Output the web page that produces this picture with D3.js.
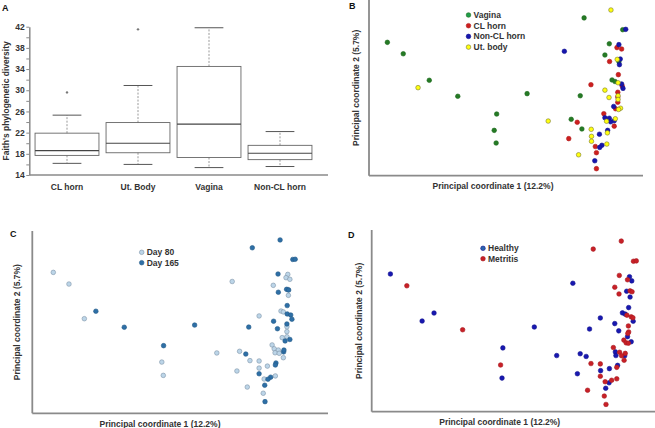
<!DOCTYPE html>
<html>
<head>
<meta charset="utf-8">
<script src="https://cdn.jsdelivr.net/npm/d3@7"></script>
<style>
  body { margin: 0; background: #fff; }
  text { font-family: "Liberation Sans Narrow", "Liberation Sans", Arial, sans-serif; font-weight: bold; fill: #333; }
</style>
</head>
<body>
<script>
let width = 655;
let height = 428;

// ---- panel A: Faith's PD boxplots ----
const boxCategories = ['CL horn', 'Ut. Body', 'Vagina', 'Non-CL horn'];
const whiskerLow  = [16.2, 16.0, 15.4, 15.6];
const q1          = [17.7, 18.2, 17.3, 16.9];
const median      = [18.6, 20.0, 23.6, 18.1];
const q3          = [21.9, 23.9, 34.5, 19.6];
const whiskerHigh = [25.3, 30.9, 41.8, 22.2];
const outliers    = [[29.6], [41.5], [], []];
const pdTicks = [14, 16, 18, 20, 22, 24, 26, 28, 30, 32, 34, 36, 38, 40, 42];

// ---- panel B: PCoA by site (PC1, PC2 scores, % of axis span) ----
const siteVagina = [[6.7,75.9],[12.5,69.4],[22.0,54.3],[32.4,45.2],[46.6,35.1],[45.7,25.8],[46.4,18.6],[57.7,46.7],
  [78.5,89.8],[77.1,45.5],[73.8,32.1],[77.7,26.6],[87.7,75.1],[86.1,68.7],[92.6,83.1],[88.7,54.5],[89.8,53.6],[91.2,64.9]];
const siteCLhorn = [[90.5,72.9],[92.2,72.1],[87.8,65.0],[91.0,57.5],[81.0,51.8],[92.4,51.1],[90.8,47.5],[90.8,44.8],
  [90.8,41.8],[90.0,38.1],[85.7,35.3],[76.0,30.4],[89.5,28.2],[72.9,21.1],[82.6,16.6],[83.0,13.1],[83.0,4.0]];
const siteNonCL = [[71.3,70.8],[93.7,83.3],[91.2,74.6],[91.7,66.4],[91.4,63.2],[92.2,52.2],[92.7,49.7],[89.3,39.4],
  [86.1,33.0],[87.7,32.7],[88.2,30.7],[89.5,31.3],[84.1,23.6],[87.1,25.8],[85.0,17.3],[84.2,16.1],[82.4,8.5]];
const siteUtBody = [[88.3,94.3],[17.9,50.1],[65.4,31.1],[86.1,48.7],[87.6,44.5],[90.6,66.2],[90.9,45.5],[90.9,43.4],
  [91.8,38.4],[91.1,37.7],[89.9,32.4],[86.7,31.0],[81.1,26.4],[81.2,22.4],[81.2,19.6],[87.0,24.4],[86.8,18.0],
  [76.5,11.9],[90.9,52.9]];

// ---- panel C: PCoA by day ----
const day80 = [[7.1,77.3],[12.4,70.9],[17.6,51.9],[43.8,28.1],[44.3,20.8],[62.4,33.1],[67.6,72.3],[70.1,34.0],
  [69.2,23.2],[72.7,14.4],[73.6,28.9],[76.7,53.4],[76.7,28.7],[76.7,24.8],[78.1,11.0],[78.4,18.8],[79.5,25.9],
  [82.2,20.5],[81.5,70.2],[81.1,37.5],[81.8,35.4],[83.2,34.7],[82.1,33.2],[83.5,32.9],[84.9,30.5],[86.4,76.2],
  [85.8,74.4],[87.1,73.5],[86.6,64.7],[84.1,56.1],[84.9,55.6],[86.1,47.5],[86.1,44.8],[86.1,42.0],[84.5,41.5],
  [86.5,67.9]];
const day165 = [[83.8,95.1],[74.4,90.8],[88.1,84.4],[88.9,84.5],[83.1,76.4],[83.2,66.4],[86.0,68.0],[86.7,67.6],
  [86.2,59.1],[86.2,54.5],[87.4,53.9],[87.8,51.6],[21.5,56.0],[31.1,47.2],[54.9,48.4],[44.4,37.1],[73.2,47.3],
  [81.6,50.5],[82.9,46.4],[86.1,49.0],[87.1,40.5],[85.5,39.7],[72.2,32.5],[85.0,33.7],[85.1,34.7],[82.4,27.6],
  [82.2,26.5],[76.7,21.7],[80.6,19.8],[79.7,18.7],[78.6,15.4],[78.7,6.4]];

// ---- panel D: PCoA by health ----
const healthy = [[6.6,75.8],[17.8,49.9],[22.0,54.3],[46.3,35.1],[46.0,18.5],[57.4,46.6],[65.3,30.9],[71.0,70.7],
  [73.6,31.9],[75.7,30.4],[72.6,20.9],[76.9,45.5],[80.7,51.6],[80.8,22.6],[83.9,23.7],[83.8,15.9],[82.6,12.9],
  [85.8,48.5],[87.2,44.5],[86.8,25.5],[86.0,32.9],[86.2,30.9],[89.3,30.8],[91.0,74.3],[91.8,72.0],[90.0,66.3],
  [91.2,63.1],[90.7,57.3],[88.5,54.4],[89.5,53.7],[92.3,49.8],[90.3,41.3],[91.6,38.5]];
const metritis = [[12.4,69.3],[32.1,45.1],[45.5,25.7],[78.2,89.5],[88.1,93.9],[92.4,82.8],[93.4,83.0],[87.4,75.0],
  [85.8,68.5],[87.3,64.8],[90.3,72.6],[91.2,66.5],[91.9,66.0],[90.1,53.1],[91.6,52.2],[92.2,51.7],[90.6,47.2],
  [90.7,43.9],[90.4,43.1],[89.0,39.4],[89.8,37.9],[90.6,37.7],[85.3,35.3],[87.5,32.7],[88.2,30.8],[89.5,32.1],
  [89.1,28.3],[77.4,26.5],[80.7,26.3],[80.7,19.5],[86.5,24.4],[84.7,17.3],[86.5,18.1],[82.4,16.5],[76.2,11.8],
  [82.1,8.6],[82.7,4.0]];

const axisGray = '#8a8a8a';

const svg = d3.select('body')
  .append('svg')
  .attr('width', width)
  .attr('height', height);

function panelLetter(label, x, y) {
  svg.append('text').attr('x', x).attr('y', y)
    .style('font-family', 'Liberation Sans, Arial, sans-serif')
    .style('font-size', '9px').style('fill', '#111')
    .text(label);
}

function drawBoxplot() {
  const x = d3.scaleBand().domain(boxCategories).range([31.5, 315.5]).paddingInner(0.1).paddingOuter(0.05);
  const y = d3.scaleLinear().domain([14, 42]).range([175, 26.7]);
  const g = svg.append('g');

  const yAxis = d3.axisLeft(y).tickValues(pdTicks).tickSize(3).tickSizeOuter(0)
    .tickFormat(d => (d - 14) % 4 === 0 ? d : '');
  const ya = g.append('g').attr('transform', 'translate(29.3,0)').call(yAxis);
  ya.select('.domain').attr('stroke', axisGray).attr('stroke-width', 1.5);
  ya.selectAll('.tick line').attr('stroke', axisGray);
  ya.selectAll('.tick text').attr('x', -4.5).style('font-size', '8.5px').style('font-family', null);

  const xa = g.append('g').attr('transform', 'translate(0,175)')
    .call(d3.axisBottom(x).tickSize(0).tickPadding(9));
  xa.select('.domain').remove();
  xa.selectAll('.tick text').style('font-size', '8.5px').style('font-family', null);
  g.append('line').attr('x1', 29.3).attr('x2', 328).attr('y1', 175).attr('y2', 175)
    .attr('stroke', axisGray).attr('stroke-width', 1.5);

  boxCategories.forEach((c, i) => {
    const cx = x(c) + x.bandwidth() / 2;
    const bw = x.bandwidth();
    const capW = bw * 0.45;
    // whiskers
    g.append('line').attr('x1', cx).attr('x2', cx).attr('y1', y(q3[i])).attr('y2', y(whiskerHigh[i]))
      .attr('stroke', '#999').attr('stroke-dasharray', '2,1.5');
    g.append('line').attr('x1', cx).attr('x2', cx).attr('y1', y(q1[i])).attr('y2', y(whiskerLow[i]))
      .attr('stroke', '#999').attr('stroke-dasharray', '2,1.5');
    [whiskerHigh[i], whiskerLow[i]].forEach(v => {
      g.append('line').attr('x1', cx - capW / 2).attr('x2', cx + capW / 2).attr('y1', y(v)).attr('y2', y(v))
        .attr('stroke', '#555').attr('stroke-width', 1);
    });
    g.append('rect').attr('x', x(c)).attr('width', bw)
      .attr('y', y(q3[i])).attr('height', y(q1[i]) - y(q3[i]))
      .attr('fill', 'none').attr('stroke', '#666').attr('stroke-width', 0.9);
    g.append('line').attr('x1', x(c)).attr('x2', x(c) + bw).attr('y1', y(median[i])).attr('y2', y(median[i]))
      .attr('stroke', '#444').attr('stroke-width', 1.1);
    outliers[i].forEach(v => {
      g.append('circle').attr('cx', cx).attr('cy', y(v)).attr('r', 1.2).attr('fill', '#777');
    });
  });

  g.append('text')
    .attr('transform', 'translate(8.5,' + y(28) + ') rotate(-90)')
    .attr('text-anchor', 'middle').style('font-size', '8.5px')
    .text("Faith's phylogenetic diversity");
  panelLetter('A', 2, 11);
}

function drawScatter(cfg) {
  const x = d3.scaleLinear().domain([0, 100]).range([cfg.x0, cfg.x1]);
  const y = d3.scaleLinear().domain([0, 100]).range([cfg.y1, cfg.y0]);
  const g = svg.append('g');

  g.append('line').attr('x1', cfg.x0).attr('x2', cfg.x0).attr('y1', cfg.y0).attr('y2', cfg.y1)
    .attr('stroke', axisGray).attr('stroke-width', 1.8);
  g.append('line').attr('x1', cfg.x0).attr('x2', cfg.x1).attr('y1', cfg.y1).attr('y2', cfg.y1)
    .attr('stroke', axisGray).attr('stroke-width', 1.8);

  cfg.series.forEach(s => {
    g.append('g').selectAll('circle').data(s.points)
      .enter().append('circle')
        .attr('cx', d => x(d[0]))
        .attr('cy', d => y(d[1]))
        .attr('r', 2.3)
        .attr('fill', s.color)
        .attr('stroke', s.stroke)
        .attr('stroke-width', 0.6);
  });

  // legend
  const leg = g.append('g').attr('transform', 'translate(' + cfg.legX + ',' + cfg.legY + ')');
  cfg.legendOrder.forEach((s, i) => {
    leg.append('circle').attr('cx', 0).attr('cy', i * cfg.legStep).attr('r', 2.3)
      .attr('fill', s.legendColor || s.color).attr('stroke', s.stroke).attr('stroke-width', 0.6);
    leg.append('text').attr('x', 5).attr('y', i * cfg.legStep + 3)
      .style('font-size', '8.5px').text(s.name);
  });

  g.append('text')
    .attr('transform', 'translate(' + cfg.yLabelX + ',' + ((cfg.y0 + cfg.y1) / 2) + ') rotate(-90)')
    .attr('text-anchor', 'middle').style('font-size', '8.5px')
    .text('Principal coordinate 2 (5.7%)');
  g.append('text')
    .attr('x', cfg.xLabelX).attr('y', cfg.xLabelY)
    .attr('text-anchor', 'middle').style('font-size', '8.5px')
    .text('Principal coordinate 1 (12.2%)');
  panelLetter(cfg.letter, cfg.letterX, cfg.letterY);
}

drawBoxplot();

const sVag = { name: 'Vagina', points: siteVagina, color: '#257a25', legendColor: '#1f9e4a', stroke: '#1c6a1c' };
const sCL  = { name: 'CL horn', points: siteCLhorn, color: '#cc1f1f', stroke: '#b01a1a' };
const sNon = { name: 'Non-CL horn', points: siteNonCL, color: '#1616ad', stroke: '#10108f' };
const sUt  = { name: 'Ut. body', points: siteUtBody, color: '#ffff10', stroke: '#7a7a30' };
drawScatter({
  letter: 'B', letterX: 349, letterY: 9,
  x0: 369, x1: 643, y0: 0, y1: 175.7,
  series: [sVag, sCL, sNon, sUt], legendOrder: [sVag, sCL, sNon, sUt],
  legX: 468.5, legY: 15, legStep: 10.7,
  yLabelX: 358.5, xLabelX: 493, xLabelY: 189
});

const d80  = { name: 'Day 80', points: day80, color: '#bcd5e8', stroke: '#7d93a8' };
const d165 = { name: 'Day 165', points: day165, color: '#2e6fa6', stroke: '#245a88' };
drawScatter({
  letter: 'C', letterX: 10, letterY: 237,
  x0: 32.3, x1: 328, y0: 231, y1: 413.3,
  series: [d80, d165], legendOrder: [d80, d165],
  legX: 141.7, legY: 252.3, legStep: 10.4,
  yLabelX: 20, xLabelX: 160, xLabelY: 426.5
});

const hH = { name: 'Healthy', points: healthy, color: '#1818b0', legendColor: '#2a66ad', stroke: '#12128f' };
const hM = { name: 'Metritis', points: metritis, color: '#c82027', stroke: '#a81a20' };
drawScatter({
  letter: 'D', letterX: 348, letterY: 238,
  x0: 371.7, x1: 655, y0: 230, y1: 411.7,
  series: [hH, hM], legendOrder: [hH, hM],
  legX: 483, legY: 248.3, legStep: 10.4,
  yLabelX: 361.5, xLabelX: 499.7, xLabelY: 425
});
</script>
</body>
</html>
